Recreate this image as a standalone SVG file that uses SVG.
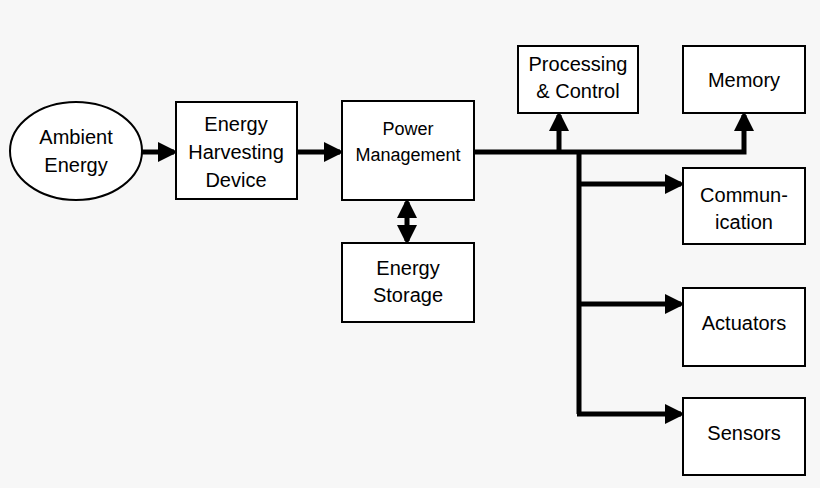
<svg xmlns="http://www.w3.org/2000/svg" width="820" height="488" viewBox="0 0 820 488">
<style>
.b{fill:#fff;stroke:#000;stroke-width:2}
.t{font-family:"Liberation Sans",Arial,sans-serif;font-size:20px;text-anchor:middle;fill:#000}
.c{fill:none;stroke:#000;stroke-width:5}
</style>
<defs>
<marker id="a" markerWidth="4" markerHeight="4" refX="3.2" refY="2" orient="auto" markerUnits="strokeWidth"><path d="M0,0L4,2L0,4Z" fill="#000"/></marker>
<marker id="s" markerWidth="4" markerHeight="4" refX="0.8" refY="2" orient="auto" markerUnits="strokeWidth"><path d="M4,0L0,2L4,4Z" fill="#000"/></marker>
</defs>
<rect width="820" height="488" fill="#f7f7f7"/>
<g id="connectors">
<path class="c" d="M142,152H174" marker-end="url(#a)"/>
<path class="c" d="M297,152H340" marker-end="url(#a)"/>
<path class="c" d="M407,202V241" marker-start="url(#s)" marker-end="url(#a)"/>
<path class="c" d="M474,152H744V115" marker-end="url(#a)"/>
<path class="c" d="M559,152V115" marker-end="url(#a)"/>
<path class="c" d="M579,150V414"/>
<path class="c" d="M577,184H681" marker-end="url(#a)"/>
<path class="c" d="M577,304H681" marker-end="url(#a)"/>
<path class="c" d="M577,414H681" marker-end="url(#a)"/>
</g>
<g id="ambient"><ellipse class="b" cx="76" cy="151" rx="66" ry="49"/><text class="t" x="76" y="144">Ambient</text><text class="t" x="76" y="172">Energy</text></g>
<g id="harvest"><rect class="b" x="176" y="102" width="121" height="97"/><text class="t" x="236" y="131">Energy</text><text class="t" x="236" y="159">Harvesting</text><text class="t" x="236" y="187">Device</text></g>
<g id="power"><rect class="b" x="342" y="101" width="132" height="99"/><text class="t" x="408" y="135" style="font-size:18px">Power</text><text class="t" x="408" y="161" style="font-size:18px">Management</text></g>
<g id="storage"><rect class="b" x="342" y="243" width="132" height="79"/><text class="t" x="408" y="275">Energy</text><text class="t" x="408" y="302">Storage</text></g>
<g id="processing"><rect class="b" x="518" y="46" width="120" height="67"/><text class="t" x="578" y="71">Processing</text><text class="t" x="578" y="98">&amp; Control</text></g>
<g id="memory"><rect class="b" x="683" y="46" width="122" height="67"/><text class="t" x="744" y="87">Memory</text></g>
<g id="communication"><rect class="b" x="683" y="168" width="122" height="76"/><text class="t" x="744" y="202">Commun-</text><text class="t" x="744" y="229">ication</text></g>
<g id="actuators"><rect class="b" x="683" y="288" width="122" height="78"/><text class="t" x="744" y="330">Actuators</text></g>
<g id="sensors"><rect class="b" x="683" y="398" width="122" height="77"/><text class="t" x="744" y="440">Sensors</text></g>
</svg>
